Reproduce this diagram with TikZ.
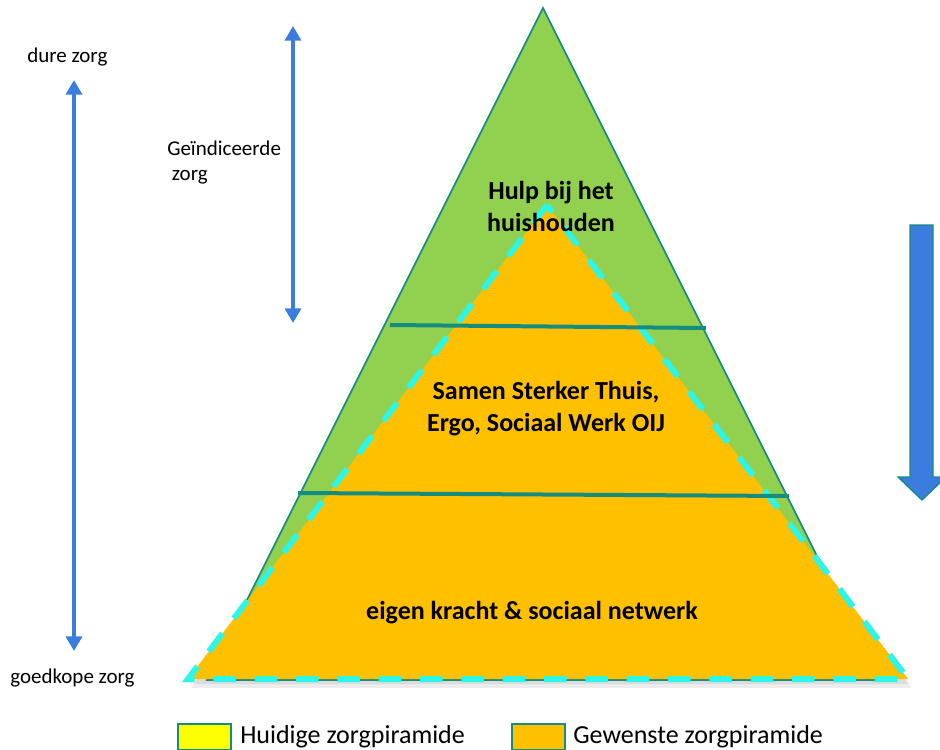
\documentclass[tikz,border=0pt]{standalone}
\usepackage{fontspec}
\setmainfont{Carlito}
\usetikzlibrary{arrows.meta,%
                positioning}
\definecolor{zgreen}{RGB}{146,208,80}
\definecolor{zorange}{RGB}{255,192,0}
\definecolor{zteal}{RGB}{20,140,128}
\definecolor{zcyan}{RGB}{45,245,232}
\definecolor{zblue}{RGB}{58,125,222}
\definecolor{zyellow}{RGB}{255,255,0}

\begin{document}
\begin{tikzpicture}[x=0.75pt,y=-0.75pt,
  side/.style={font=\fontsize{15.75}{18.75}\selectfont,align=left,inner sep=0pt},
  laag/.style={font=\bfseries\fontsize{19.5}{24}\selectfont,align=center,inner sep=0pt},
  legendtext/.style={font=\fontsize{19.5}{23}\selectfont,inner sep=0pt,anchor=base west},
  legendbox/.style={draw=zteal,line width=1.5pt,minimum width=40pt,minimum height=19.5pt,inner sep=0pt,anchor=north west},
  zorgpijl/.style={draw=zblue,line width=3pt,{Triangle[width=12pt,length=11pt]}-{Triangle[width=12pt,length=11pt]}},
  grens/.style={draw=zteal,line width=3pt}]
\clip (0,0) rectangle (940,750);
\fill[black,opacity=0.07] (549,212) -- (191,688) -- (911,688) -- cycle;
\fill[black,opacity=0.07] (549,209) -- (190,684) -- (910,684) -- cycle;
\filldraw[fill=zgreen,draw=zteal,line width=1.2pt] (543,8) -- (207,680) -- (879,680) -- cycle;
\filldraw[fill=zorange,draw=zcyan,line width=4.5pt,dash pattern=on 17pt off 14pt] (547,205) -- (188,679) -- (908,679) -- cycle;
\coordinate (g1l) at (390,325);
\coordinate (g1r) at (706,328);
\coordinate (g2l) at (298,493);
\coordinate (g2r) at (789,496);
\draw[grens] (g1l) -- (g1r);
\draw[grens] (g2l) -- (g2r);
\node[laag] (hulp) at (551,206) {Hulp bij het\\huishouden};
\node[laag] (samen) at (546,409) {Samen Sterker Thuis,\\Ergo, Sociaal Werk OIJ};
\node[laag] (eigen) at (532,613) {eigen kracht \& sociaal netwerk};
\node[side,anchor=base west] (duur) at (27,62) {dure zorg};
\node[side,anchor=base west] (goedkoop) at (10,683) {goedkope zorg};
\node[side,anchor=north west] (geind) at (167,141) {Geïndiceerde\\\hspace*{0.22em}zorg};
\coordinate (l1) at (74,80);
\coordinate (l2) at (74,651);
\coordinate (r1) at (293,26);
\coordinate (r2) at (293,323);
\draw[zorgpijl] (l2) -- (l1);
\draw[zorgpijl] (r2) -- (r1);
\filldraw[fill=zblue,draw=zteal,line width=1pt] (910,225) -- (933,225) -- (933,477) -- (946,477) -- (922,500) -- (898,477) -- (910,477) -- cycle;
\node[legendbox,fill=zyellow] (huidig) at (177,723) {};
\node[legendtext] (huidigtxt) at (240,743) {Huidige zorgpiramide};
\node[legendbox,fill=zorange] (gewenst) at (511,723) {};
\node[legendtext] (gewensttxt) at (573,743) {Gewenste zorgpiramide};
\end{tikzpicture}
\end{document}
